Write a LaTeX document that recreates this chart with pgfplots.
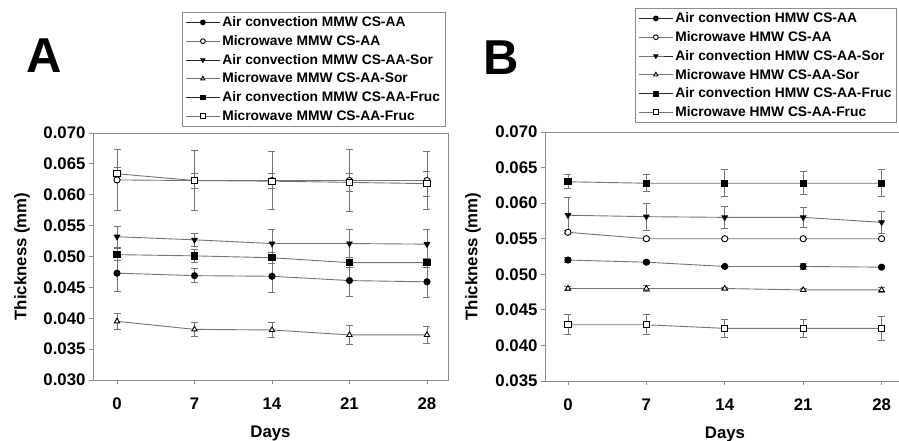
\documentclass[border=0pt]{standalone}
\usepackage{fontspec}
\setmainfont{Liberation Sans}
\usepackage{pgfplots}
\pgfplotsset{compat=1.18}
\definecolor{lc}{gray}{0.45}
\definecolor{ax}{gray}{0.55}
\pgfplotsset{
  common/.style={
    scale only axis,
    xtick={0,7,14,21,28},
    tick align=outside,
    major tick length=4bp,
    xtick pos=left, ytick pos=left,
    axis line style={ax, line width=0.9bp},
    tick style={ax, line width=0.9bp},
    scaled y ticks=false,
    /pgf/number format/assume math mode=true,
    ticklabel style={font=\fontsize{16.8bp}{19bp}\selectfont\bfseries},
    xticklabel style={yshift=-10bp},
    yticklabel style={/pgf/number format/fixed, /pgf/number format/fixed zerofill, /pgf/number format/precision=3},
    xlabel={Days},
    ylabel={Thickness (mm)},
    label style={font=\fontsize{16.8bp}{19bp}\selectfont\bfseries},
    legend cell align=left,
    legend style={draw=ax, line width=0.8bp, font=\fontsize{13.8bp}{16bp}\selectfont\bfseries,
      anchor=north west, inner xsep=3bp, inner ysep=2.3bp, row sep=3.3bp},
    legend image code/.code={\draw[mark repeat=2,mark phase=2,#1,mark size=2.4bp] plot coordinates {(0bp,0bp) (17bp,0bp) (34bp,0bp)};},
  },
  pl/.style={solid, line width=0.9bp, color=lc, mark size=3.1bp,
      error bars/y dir=both, error bars/y explicit,
      error bars/error bar style={lc, line width=0.9bp, solid},
      error bars/error mark options={rotate=90, lc, mark size=3.5bp, line width=0.9bp}},
  s1/.style={pl, mark=*, mark options={draw=black, fill=black, solid}, legend image post style={draw=black!85}},
  s2/.style={pl, mark=*, mark options={draw=black, fill=white, solid}},
  s3/.style={pl, mark=triangle*, mark options={draw=black, fill=black, rotate=180, solid}, legend image post style={draw=black!85}},
  s4/.style={pl, mark=triangle*, mark options={draw=black, fill=white, solid}},
  s5/.style={pl, mark=square*, mark options={draw=black, fill=black, solid}, legend image post style={draw=black!85}},
  s6/.style={pl, mark=square*, mark options={draw=black, fill=white, solid}},
}
\begin{document}
\begin{tikzpicture}
\useasboundingbox (0,0) rectangle (899bp,441bp);
\node[anchor=base west, font=\fontsize{49bp}{55bp}\selectfont\bfseries, inner sep=0pt] at (26bp,368bp) {A};
\node[anchor=base west, font=\fontsize{49bp}{55bp}\selectfont\bfseries, inner sep=0pt] at (483bp,366bp) {B};
% Panel A
\begin{axis}[common,
  at={(93bp,61bp)}, anchor=south west,
  width=355bp, height=247bp,
  xmin=-2.17, xmax=29.9, ymin=0.030, ymax=0.070,
  ytick={0.030,0.035,0.040,0.045,0.050,0.055,0.060,0.065,0.070},
  ylabel style={at={(axis description cs:-0.2,0.5)}, anchor=center},
  xlabel style={at={(axis description cs:0.5,-0.215)}, anchor=center},
  legend style={at={(rel axis cs:0.2507,1.49)}},
]
\addplot[s1] coordinates {(0,0.0473) +- (0,0.0030) (7,0.0469) +- (0,0.0011) (14,0.0468) +- (0,0.0026) (21,0.0461) +- (0,0.0026) (28,0.0459) +- (0,0.0026)};
\addlegendentry{Air convection MMW CS-AA}
\addplot[s2] coordinates {(0,0.0624) +- (0,0.0050) (7,0.0623) +- (0,0.0049) (14,0.0623) +- (0,0.0047) (21,0.0623) +- (0,0.0050) (28,0.0623) +- (0,0.0047)};
\addlegendentry{Microwave MMW CS-AA}
\addplot[s3] coordinates {(0,0.0532) +- (0,0.0017) (7,0.0527) +- (0,0.0011) (14,0.0521) +- (0,0.0022) (21,0.0521) +- (0,0.0022) (28,0.0520) +- (0,0.0023)};
\addlegendentry{Air convection MMW CS-AA-Sor}
\addplot[s4] coordinates {(0,0.0395) +- (0,0.0013) (7,0.0382) +- (0,0.0012) (14,0.0381) +- (0,0.0012) (21,0.0373) +- (0,0.0016) (28,0.0373) +- (0,0.0013)};
\addlegendentry{Microwave MMW CS-AA-Sor}
\addplot[s5] coordinates {(0,0.0503) +- (0,0.0010) (7,0.0501) +- (0,0.0010) (14,0.0498) +- (0,0.0009) (21,0.0490) +- (0,0.0008) (28,0.0490) +- (0,0.0007)};
\addlegendentry{Air convection MMW CS-AA-Fruc}
\addplot[s6] coordinates {(0,0.0634) +- (0,0.0010) (7,0.0623) +- (0,0.0012) (14,0.0622) +- (0,0.0012) (21,0.0620) +- (0,0.0014) (28,0.0618) +- (0,0.0020)};
\addlegendentry{Microwave MMW CS-AA-Fruc}
\end{axis}
% Panel B
\begin{axis}[common,
  at={(545bp,60bp)}, anchor=south west,
  width=360bp, height=249bp,
  xmin=-2.05, xmax=30.09, ymin=0.035, ymax=0.070,
  ytick={0.035,0.040,0.045,0.050,0.055,0.060,0.065,0.070},
  ylabel style={at={(axis description cs:-0.2,0.5)}, anchor=center},
  xlabel style={at={(axis description cs:0.5,-0.213)}, anchor=center},
  legend style={at={(rel axis cs:0.25,1.498)}},
]
\addplot[s1] coordinates {(0,0.0520) +- (0,0.0003) (7,0.0517) +- (0,0.0002) (14,0.0511) +- (0,0.0002) (21,0.0511) +- (0,0.0004) (28,0.0510) +- (0,0.0002)};
\addlegendentry{Air convection HMW CS-AA}
\addplot[s2] coordinates {(0,0.0559) +- (0,0.0002) (7,0.0550) +- (0,0.0002) (14,0.0550) +- (0,0.0001) (21,0.0550) +- (0,0.0001) (28,0.0550) +- (0,0.0001)};
\addlegendentry{Microwave HMW CS-AA}
\addplot[s3] coordinates {(0,0.0583) +- (0,0.0025) (7,0.0581) +- (0,0.0019) (14,0.0580) +- (0,0.0015) (21,0.0580) +- (0,0.0014) (28,0.0573) +- (0,0.0015)};
\addlegendentry{Air convection HMW CS-AA-Sor}
\addplot[s4] coordinates {(0,0.0480) +- (0,0.0003) (7,0.0480) +- (0,0.0004) (14,0.0480) +- (0,0.0002) (21,0.0478) +- (0,0.0002) (28,0.0478) +- (0,0.0003)};
\addlegendentry{Microwave HMW CS-AA-Sor}
\addplot[s5] coordinates {(0,0.0630) +- (0,0.0010) (7,0.0628) +- (0,0.0012) (14,0.0628) +- (0,0.0019) (21,0.0628) +- (0,0.0016) (28,0.0628) +- (0,0.0019)};
\addlegendentry{Air convection HMW CS-AA-Fruc}
\addplot[s6] coordinates {(0,0.0429) +- (0,0.0014) (7,0.0429) +- (0,0.0014) (14,0.0424) +- (0,0.0013) (21,0.0424) +- (0,0.0013) (28,0.0424) +- (0,0.0017)};
\addlegendentry{Microwave HMW CS-AA-Fruc}
\end{axis}
\end{tikzpicture}
\end{document}
